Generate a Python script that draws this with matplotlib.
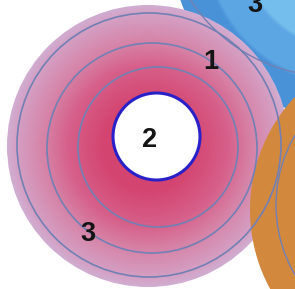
import numpy as np
import matplotlib.pyplot as plt
from matplotlib.patches import Circle

W, H = 295, 289

# disco rosa principale
pink_center = (148, 146)
pink_radius = 141
pink_stops_r = [44, 80, 105, 132, 141]
pink_stops_rgb = [(212, 68, 112), (214, 96, 138), (214, 132, 168), (212, 160, 196), (208, 174, 210)]
pink_ring_centers = [(158, 147), (152, 148), (149, 145)]
pink_ring_radii = [80, 105, 132]

# foro bianco centrale
hole_center = (156.5, 136.5)
hole_radius = 43.5

# disco blu (in alto a destra)
blue_center = (350, -60)
blue_radius = 180
blue_stops_r = [0, 70, 74, 108, 112, 143, 147, 180]
blue_stops_rgb = [(150, 215, 240), (150, 215, 240), (115, 190, 236), (115, 190, 236),
                  (92, 166, 228), (92, 166, 228), (74, 146, 216), (74, 146, 216)]
blue_ring_center = (330, -90)
blue_ring_radius = 166

# disco arancione (in basso a destra)
orange_center = (415, 210)
orange_radius = 165
orange_rgb = (210, 137, 62)
orange_ring_center = (414, 205)
orange_ring_radius = 138

labels = ['2', '1', '3', '3']
label_x = [150, 211, 88, 255]
label_y = [140, 62, 234, 5]

yy, xx = np.mgrid[0:H, 0:W] + 0.5


def radial(center, r_stops, rgb_stops):
    d = np.hypot(xx - center[0], yy - center[1])
    img = np.zeros((H, W, 3))
    for k in range(3):
        img[..., k] = np.interp(d, r_stops, [c[k] for c in rgb_stops]) / 255
    return img


fig = plt.figure(figsize=(W / 100, H / 100), dpi=100)
ax = fig.add_axes([0, 0, 1, 1])

# arancione sotto a tutto
ax.add_patch(Circle(orange_center, orange_radius, color=np.array(orange_rgb) / 255, lw=0))

# blu con bande
im = ax.imshow(radial(blue_center, blue_stops_r, blue_stops_rgb), extent=(0, W, H, 0), aspect='auto')
im.set_clip_path(Circle(blue_center, blue_radius, transform=ax.transData))

# rosa con sfumatura
im = ax.imshow(radial(pink_center, pink_stops_r, pink_stops_rgb), extent=(0, W, H, 0), aspect='auto')
im.set_clip_path(Circle(pink_center, pink_radius, transform=ax.transData))

line_col = '#7280b4'
for c, r in zip(pink_ring_centers, pink_ring_radii):
    ax.add_patch(Circle(c, r, fill=False, ec=line_col, lw=1.2))
ax.add_patch(Circle(blue_ring_center, blue_ring_radius, fill=False, ec=line_col, lw=1.0))
ax.add_patch(Circle(orange_ring_center, orange_ring_radius, fill=False, ec=line_col, lw=1.0))

ax.add_patch(Circle(hole_center, hole_radius, fc='white', ec='#2a20c8', lw=2.2))

for t, x, y in zip(labels, label_x, label_y):
    ax.text(x, y, t, ha='center', va='center', fontsize=19.5, fontweight='bold',
            family='Liberation Sans', color='#141414')

ax.set_xlim(0, W)
ax.set_ylim(H, 0)
ax.axis('off')
fig.savefig('out.png', dpi=100)
